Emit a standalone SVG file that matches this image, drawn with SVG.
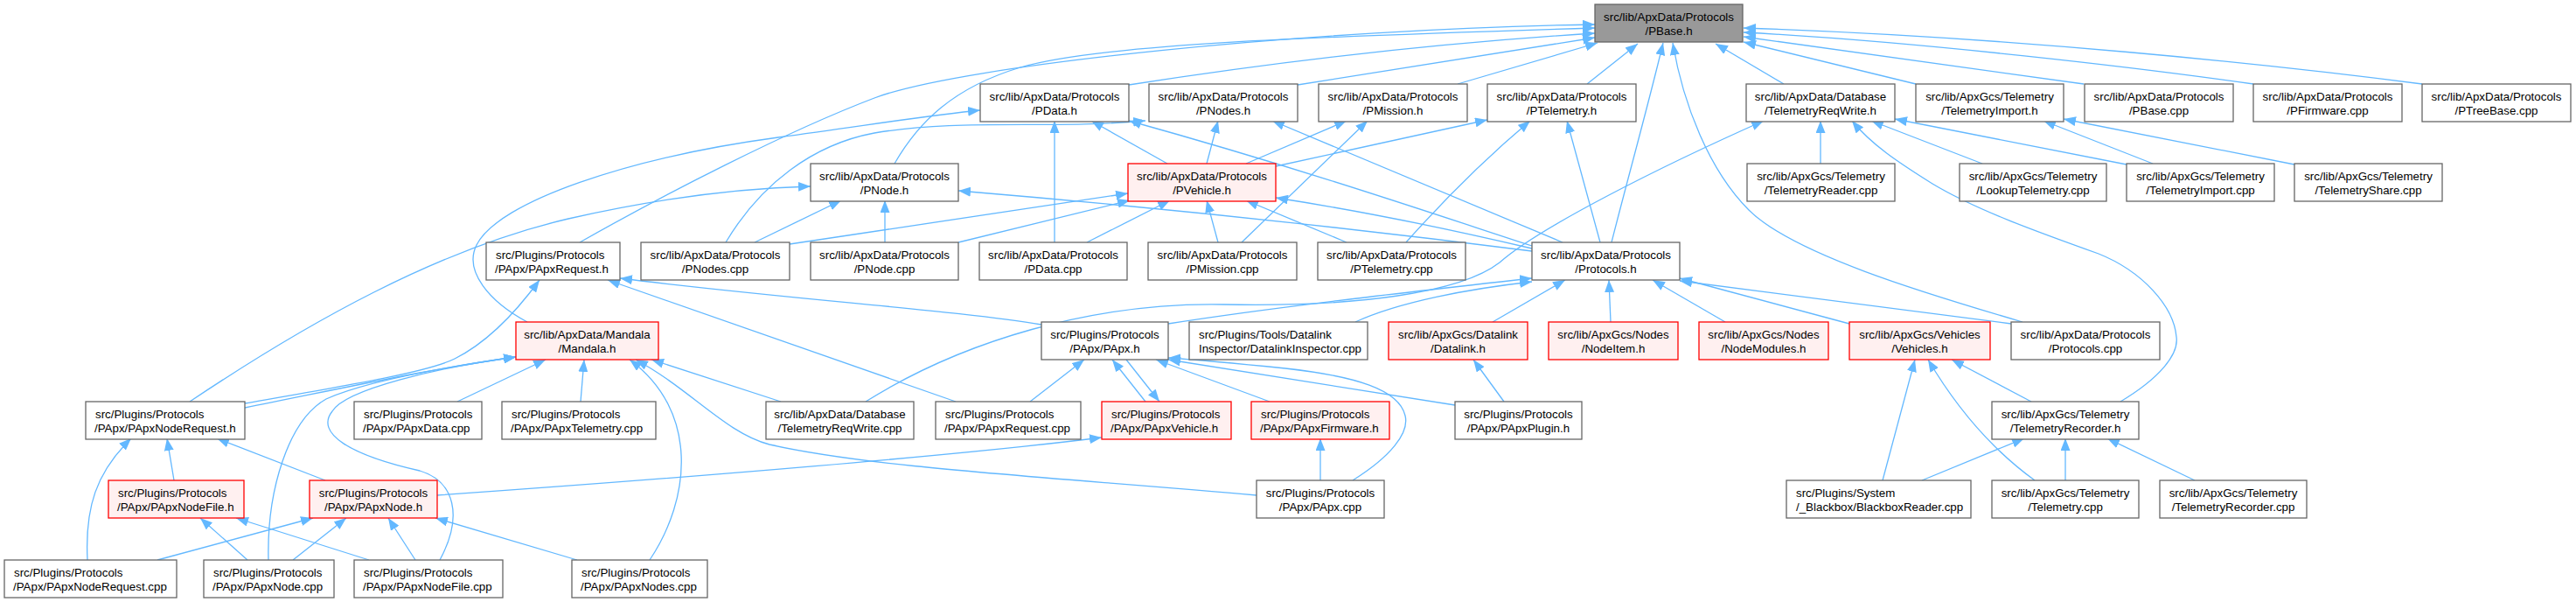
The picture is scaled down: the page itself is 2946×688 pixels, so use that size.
<svg xmlns="http://www.w3.org/2000/svg" width="2946" height="688" viewBox="0 0 2946 688">
<defs>
<marker id="a" markerUnits="userSpaceOnUse" markerWidth="15" markerHeight="11" viewBox="0 0 15 11" refX="14" refY="5.5" orient="auto"><path d="M0,0 L14,5.5 L0,11 z" fill="#63b8ff"/></marker>
<style>
rect{stroke-width:1.3}
.n rect{fill:#fff;stroke:#666}
.r rect{fill:#fff0f0;stroke:#ff0000}
.root rect{fill:#999;stroke:#666}
text{font-family:"Liberation Sans",Arial,sans-serif;font-size:13.33px;fill:#000}
.c{text-anchor:middle}
.e path{fill:none;stroke:#63b8ff;stroke-width:1.3;marker-end:url(#a)}
</style>
</defs>
<rect width="2946" height="688" fill="#fff"/>
<g class="e" id="edges">
<path d="M663,277 C760,222 900,150 1000,112 C1100,74 1500,33 1824,28"/>
<path d="M1023,187 C1050,140 1090,100 1167,77 C1260,50 1500,42 1824,32"/>
<path d="M1291,97 C1400,80 1600,52 1824,38"/>
<path d="M1484,97 L1824,43"/>
<path d="M1667,96 L1827,49"/>
<path d="M1815,96 L1873,50"/>
<path d="M1843,277 C1860,210 1885,120 1902,49"/>
<path d="M2313,368 C2200,335 2050,290 2000,240 C1955,195 1925,120 1913,49"/>
<path d="M2040,96 L1962,50"/>
<path d="M2191,96 L1994,48"/>
<path d="M2383,96 L1994,42"/>
<path d="M2577,96 C2450,78 2200,48 1994,37"/>
<path d="M2770,96 C2600,74 2300,42 1994,32"/>
<path d="M603,368 C560,345 530,310 545,280 C570,230 720,180 890,157 C1000,142 1060,132 1121,126"/>
<path d="M1206,277 L1206,138"/>
<path d="M1335,187 L1248,138"/>
<path d="M1752,281 C1650,248 1500,196 1291,138"/>
<path d="M830,277 C870,210 930,165 1000,152 C1100,135 1200,148 1310,138"/>
<path d="M1380,187 L1393,138"/>
<path d="M1787,277 L1455,138"/>
<path d="M1425,187 L1540,138"/>
<path d="M1420,277 L1564,138"/>
<path d="M1459,190 L1701,137"/>
<path d="M1608,277 C1650,230 1700,180 1750,138"/>
<path d="M1830,277 L1792,138"/>
<path d="M863,277 L962,229"/>
<path d="M1012,277 L1012,229"/>
<path d="M217,459 C350,370 500,285 650,250 C760,225 850,215 927,213"/>
<path d="M1752,287 C1500,255 1300,235 1096,218"/>
<path d="M903,279 L1290,221"/>
<path d="M1096,277 L1292,229"/>
<path d="M1243,277 L1338,229"/>
<path d="M1393,277 L1380,229"/>
<path d="M1540,277 L1425,229"/>
<path d="M1752,284 C1650,260 1550,240 1459,226"/>
<path d="M1191,371 C1100,355 900,342 709,318"/>
<path d="M1093,459 L695,320"/>
<path d="M280,461 C400,440 490,425 520,410 C560,390 595,350 617,320"/>
<path d="M280,466 C400,442 500,420 590,408"/>
<path d="M307,640 C305,560 330,480 373,456 C420,435 520,418 590,408"/>
<path d="M503,640 C530,590 520,550 480,538 C400,520 360,495 380,470 C395,445 500,420 590,408"/>
<path d="M523,459 L624,411"/>
<path d="M664,459 L668,411"/>
<path d="M743,640 C790,570 800,470 720,411"/>
<path d="M1437,566 C1200,545 1000,535 880,508 C830,495 790,445 727,411"/>
<path d="M893,459 L745,411"/>
<path d="M1336,370 C1450,352 1600,335 1752,318"/>
<path d="M1550,368 C1600,345 1680,330 1752,322"/>
<path d="M1707,368 L1790,320"/>
<path d="M1842,368 L1840,320"/>
<path d="M1973,368 L1890,320"/>
<path d="M2115,370 L1921,318"/>
<path d="M2300,370 L1921,321"/>
<path d="M990,459 C1100,390 1250,345 1400,348 C1550,351 1670,335 1715,300 C1760,260 1900,190 2017,138"/>
<path d="M2082,187 L2082,138"/>
<path d="M2267,187 L2140,138"/>
<path d="M2432,188 L2167,136"/>
<path d="M2425,459 C2470,432 2492,405 2489,385 C2486,350 2450,310 2400,290 C2330,265 2260,240 2210,210 C2170,185 2140,165 2118,138"/>
<path d="M2462,187 L2337,138"/>
<path d="M2624,188 L2360,136"/>
<path d="M1178,459 L1240,411"/>
<path d="M1310,459 L1272,411"/>
<path d="M1288,411 L1326,459"/>
<path d="M1452,459 L1322,411"/>
<path d="M1547,549 C1590,522 1612,495 1607,475 C1600,445 1550,430 1470,421 C1420,416 1380,412 1336,409"/>
<path d="M1664,463 L1336,411"/>
<path d="M500,566 C800,545 1100,520 1260,500"/>
<path d="M1510,549 L1510,501"/>
<path d="M1720,459 L1685,411"/>
<path d="M2153,549 L2190,411"/>
<path d="M2327,549 C2280,515 2240,470 2205,411"/>
<path d="M2323,459 L2232,411"/>
<path d="M2198,549 L2315,501"/>
<path d="M2362,549 L2362,501"/>
<path d="M2510,549 L2410,501"/>
<path d="M100,640 C97,580 110,540 150,501"/>
<path d="M199,549 L191,501"/>
<path d="M372,549 L248,501"/>
<path d="M283,640 L229,592"/>
<path d="M422,640 L270,592"/>
<path d="M180,640 L358,592"/>
<path d="M335,640 L396,592"/>
<path d="M475,640 L444,592"/>
<path d="M660,640 L498,592"/>
</g>
<g id="PBase_h" class="root"><rect x="1824" y="5" width="169" height="43"/><text class="c" x="1908.5" y="23.5">src/lib/ApxData/Protocols</text><text class="c" x="1908.5" y="39.5">/PBase.h</text></g>
<g id="PData_h" class="n"><rect x="1121" y="96" width="170" height="43"/><text class="c" x="1206" y="114.5">src/lib/ApxData/Protocols</text><text class="c" x="1206" y="130.5">/PData.h</text></g>
<g id="PNodes_h" class="n"><rect x="1314" y="96" width="170" height="43"/><text class="c" x="1399" y="114.5">src/lib/ApxData/Protocols</text><text class="c" x="1399" y="130.5">/PNodes.h</text></g>
<g id="PMission_h" class="n"><rect x="1508" y="96" width="170" height="43"/><text class="c" x="1593" y="114.5">src/lib/ApxData/Protocols</text><text class="c" x="1593" y="130.5">/PMission.h</text></g>
<g id="PTelemetry_h" class="n"><rect x="1701" y="96" width="170" height="43"/><text class="c" x="1786" y="114.5">src/lib/ApxData/Protocols</text><text class="c" x="1786" y="130.5">/PTelemetry.h</text></g>
<g id="TelemetryReqWrite_h" class="n"><rect x="1997" y="96" width="170" height="43"/><text class="c" x="2082" y="114.5">src/lib/ApxData/Database</text><text class="c" x="2082" y="130.5">/TelemetryReqWrite.h</text></g>
<g id="TelemetryImport_h" class="n"><rect x="2191" y="96" width="169" height="43"/><text class="c" x="2275.5" y="114.5">src/lib/ApxGcs/Telemetry</text><text class="c" x="2275.5" y="130.5">/TelemetryImport.h</text></g>
<g id="PBase_cpp" class="n"><rect x="2384" y="96" width="170" height="43"/><text class="c" x="2469" y="114.5">src/lib/ApxData/Protocols</text><text class="c" x="2469" y="130.5">/PBase.cpp</text></g>
<g id="PFirmware_cpp" class="n"><rect x="2577" y="96" width="170" height="43"/><text class="c" x="2662" y="114.5">src/lib/ApxData/Protocols</text><text class="c" x="2662" y="130.5">/PFirmware.cpp</text></g>
<g id="PTreeBase_cpp" class="n"><rect x="2770" y="96" width="170" height="43"/><text class="c" x="2855" y="114.5">src/lib/ApxData/Protocols</text><text class="c" x="2855" y="130.5">/PTreeBase.cpp</text></g>
<g id="PNode_h" class="n"><rect x="927" y="187" width="169" height="43"/><text class="c" x="1011.5" y="205.5">src/lib/ApxData/Protocols</text><text class="c" x="1011.5" y="221.5">/PNode.h</text></g>
<g id="PVehicle_h" class="r"><rect x="1290" y="187" width="169" height="43"/><text class="c" x="1374.5" y="205.5">src/lib/ApxData/Protocols</text><text class="c" x="1374.5" y="221.5">/PVehicle.h</text></g>
<g id="TelemetryReader_cpp" class="n"><rect x="1998" y="187" width="169" height="43"/><text class="c" x="2082.5" y="205.5">src/lib/ApxGcs/Telemetry</text><text class="c" x="2082.5" y="221.5">/TelemetryReader.cpp</text></g>
<g id="LookupTelemetry_cpp" class="n"><rect x="2241" y="187" width="168" height="43"/><text class="c" x="2325" y="205.5">src/lib/ApxGcs/Telemetry</text><text class="c" x="2325" y="221.5">/LookupTelemetry.cpp</text></g>
<g id="TelemetryImport_cpp" class="n"><rect x="2432" y="187" width="169" height="43"/><text class="c" x="2516.5" y="205.5">src/lib/ApxGcs/Telemetry</text><text class="c" x="2516.5" y="221.5">/TelemetryImport.cpp</text></g>
<g id="TelemetryShare_cpp" class="n"><rect x="2624" y="187" width="169" height="43"/><text class="c" x="2708.5" y="205.5">src/lib/ApxGcs/Telemetry</text><text class="c" x="2708.5" y="221.5">/TelemetryShare.cpp</text></g>
<g id="PApxRequest_h" class="n"><rect x="556" y="277" width="153" height="43"/><text x="567" y="295.5">src/Plugins/Protocols</text><text x="566" y="311.5">/PApx/PApxRequest.h</text></g>
<g id="PNodes_cpp" class="n"><rect x="733" y="277" width="170" height="43"/><text class="c" x="818" y="295.5">src/lib/ApxData/Protocols</text><text class="c" x="818" y="311.5">/PNodes.cpp</text></g>
<g id="PNode_cpp" class="n"><rect x="927" y="277" width="169" height="43"/><text class="c" x="1011.5" y="295.5">src/lib/ApxData/Protocols</text><text class="c" x="1011.5" y="311.5">/PNode.cpp</text></g>
<g id="PData_cpp" class="n"><rect x="1120" y="277" width="169" height="43"/><text class="c" x="1204.5" y="295.5">src/lib/ApxData/Protocols</text><text class="c" x="1204.5" y="311.5">/PData.cpp</text></g>
<g id="PMission_cpp" class="n"><rect x="1313" y="277" width="170" height="43"/><text class="c" x="1398" y="295.5">src/lib/ApxData/Protocols</text><text class="c" x="1398" y="311.5">/PMission.cpp</text></g>
<g id="PTelemetry_cpp" class="n"><rect x="1507" y="277" width="169" height="43"/><text class="c" x="1591.5" y="295.5">src/lib/ApxData/Protocols</text><text class="c" x="1591.5" y="311.5">/PTelemetry.cpp</text></g>
<g id="Protocols_h" class="n"><rect x="1752" y="277" width="169" height="43"/><text class="c" x="1836.5" y="295.5">src/lib/ApxData/Protocols</text><text class="c" x="1836.5" y="311.5">/Protocols.h</text></g>
<g id="Mandala_h" class="r"><rect x="590" y="368" width="163" height="43"/><text class="c" x="671.5" y="386.5">src/lib/ApxData/Mandala</text><text class="c" x="671.5" y="402.5">/Mandala.h</text></g>
<g id="PApx_h" class="n"><rect x="1191" y="368" width="145" height="43"/><text class="c" x="1263.5" y="386.5">src/Plugins/Protocols</text><text class="c" x="1263.5" y="402.5">/PApx/PApx.h</text></g>
<g id="DatalinkInspector_cpp" class="n"><rect x="1360" y="368" width="204" height="43"/><text x="1371" y="386.5">src/Plugins/Tools/Datalink</text><text x="1371" y="402.5">Inspector/DatalinkInspector.cpp</text></g>
<g id="Datalink_h" class="r"><rect x="1588" y="368" width="159" height="43"/><text class="c" x="1667.5" y="386.5">src/lib/ApxGcs/Datalink</text><text class="c" x="1667.5" y="402.5">/Datalink.h</text></g>
<g id="NodeItem_h" class="r"><rect x="1771" y="368" width="148" height="43"/><text class="c" x="1845" y="386.5">src/lib/ApxGcs/Nodes</text><text class="c" x="1845" y="402.5">/NodeItem.h</text></g>
<g id="NodeModules_h" class="r"><rect x="1943" y="368" width="148" height="43"/><text class="c" x="2017" y="386.5">src/lib/ApxGcs/Nodes</text><text class="c" x="2017" y="402.5">/NodeModules.h</text></g>
<g id="Vehicles_h" class="r"><rect x="2115" y="368" width="161" height="43"/><text class="c" x="2195.5" y="386.5">src/lib/ApxGcs/Vehicles</text><text class="c" x="2195.5" y="402.5">/Vehicles.h</text></g>
<g id="Protocols_cpp" class="n"><rect x="2300" y="368" width="170" height="43"/><text class="c" x="2385" y="386.5">src/lib/ApxData/Protocols</text><text class="c" x="2385" y="402.5">/Protocols.cpp</text></g>
<g id="PApxNodeRequest_h" class="n"><rect x="98" y="459" width="182" height="43"/><text x="109" y="477.5">src/Plugins/Protocols</text><text x="108" y="493.5">/PApx/PApxNodeRequest.h</text></g>
<g id="PApxData_cpp" class="n"><rect x="405" y="459" width="146" height="43"/><text x="416" y="477.5">src/Plugins/Protocols</text><text x="415" y="493.5">/PApx/PApxData.cpp</text></g>
<g id="PApxTelemetry_cpp" class="n"><rect x="574" y="459" width="176" height="43"/><text x="585" y="477.5">src/Plugins/Protocols</text><text x="584" y="493.5">/PApx/PApxTelemetry.cpp</text></g>
<g id="TelemetryReqWrite_cpp" class="n"><rect x="876" y="459" width="169" height="43"/><text class="c" x="960.5" y="477.5">src/lib/ApxData/Database</text><text class="c" x="960.5" y="493.5">/TelemetryReqWrite.cpp</text></g>
<g id="PApxRequest_cpp" class="n"><rect x="1070" y="459" width="166" height="43"/><text x="1081" y="477.5">src/Plugins/Protocols</text><text x="1080" y="493.5">/PApx/PApxRequest.cpp</text></g>
<g id="PApxVehicle_h" class="r"><rect x="1260" y="459" width="148" height="43"/><text x="1271" y="477.5">src/Plugins/Protocols</text><text x="1270" y="493.5">/PApx/PApxVehicle.h</text></g>
<g id="PApxFirmware_h" class="r"><rect x="1431" y="459" width="158" height="43"/><text x="1442" y="477.5">src/Plugins/Protocols</text><text x="1441" y="493.5">/PApx/PApxFirmware.h</text></g>
<g id="PApxPlugin_h" class="n"><rect x="1664" y="459" width="145" height="43"/><text class="c" x="1736.5" y="477.5">src/Plugins/Protocols</text><text class="c" x="1736.5" y="493.5">/PApx/PApxPlugin.h</text></g>
<g id="TelemetryRecorder_h" class="n"><rect x="2278" y="459" width="168" height="43"/><text class="c" x="2362" y="477.5">src/lib/ApxGcs/Telemetry</text><text class="c" x="2362" y="493.5">/TelemetryRecorder.h</text></g>
<g id="PApxNodeFile_h" class="r"><rect x="124" y="549" width="155" height="43"/><text x="135" y="567.5">src/Plugins/Protocols</text><text x="134" y="583.5">/PApx/PApxNodeFile.h</text></g>
<g id="PApxNode_h" class="r"><rect x="354" y="549" width="146" height="43"/><text class="c" x="427" y="567.5">src/Plugins/Protocols</text><text class="c" x="427" y="583.5">/PApx/PApxNode.h</text></g>
<g id="PApx_cpp" class="n"><rect x="1437" y="549" width="146" height="43"/><text class="c" x="1510" y="567.5">src/Plugins/Protocols</text><text class="c" x="1510" y="583.5">/PApx/PApx.cpp</text></g>
<g id="BlackboxReader_cpp" class="n"><rect x="2043" y="549" width="211" height="43"/><text x="2054" y="567.5">src/Plugins/System</text><text x="2054" y="583.5">/_Blackbox/BlackboxReader.cpp</text></g>
<g id="Telemetry_cpp" class="n"><rect x="2278" y="549" width="168" height="43"/><text class="c" x="2362" y="567.5">src/lib/ApxGcs/Telemetry</text><text class="c" x="2362" y="583.5">/Telemetry.cpp</text></g>
<g id="TelemetryRecorder_cpp" class="n"><rect x="2470" y="549" width="168" height="43"/><text class="c" x="2554" y="567.5">src/lib/ApxGcs/Telemetry</text><text class="c" x="2554" y="583.5">/TelemetryRecorder.cpp</text></g>
<g id="PApxNodeRequest_cpp" class="n"><rect x="5" y="640" width="197" height="43"/><text x="16" y="658.5">src/Plugins/Protocols</text><text x="15" y="674.5">/PApx/PApxNodeRequest.cpp</text></g>
<g id="PApxNode_cpp" class="n"><rect x="233" y="640" width="149" height="43"/><text x="244" y="658.5">src/Plugins/Protocols</text><text x="243" y="674.5">/PApx/PApxNode.cpp</text></g>
<g id="PApxNodeFile_cpp" class="n"><rect x="405" y="640" width="170" height="43"/><text x="416" y="658.5">src/Plugins/Protocols</text><text x="415" y="674.5">/PApx/PApxNodeFile.cpp</text></g>
<g id="PApxNodes_cpp" class="n"><rect x="654" y="640" width="155" height="43"/><text x="665" y="658.5">src/Plugins/Protocols</text><text x="664" y="674.5">/PApx/PApxNodes.cpp</text></g>
</svg>
